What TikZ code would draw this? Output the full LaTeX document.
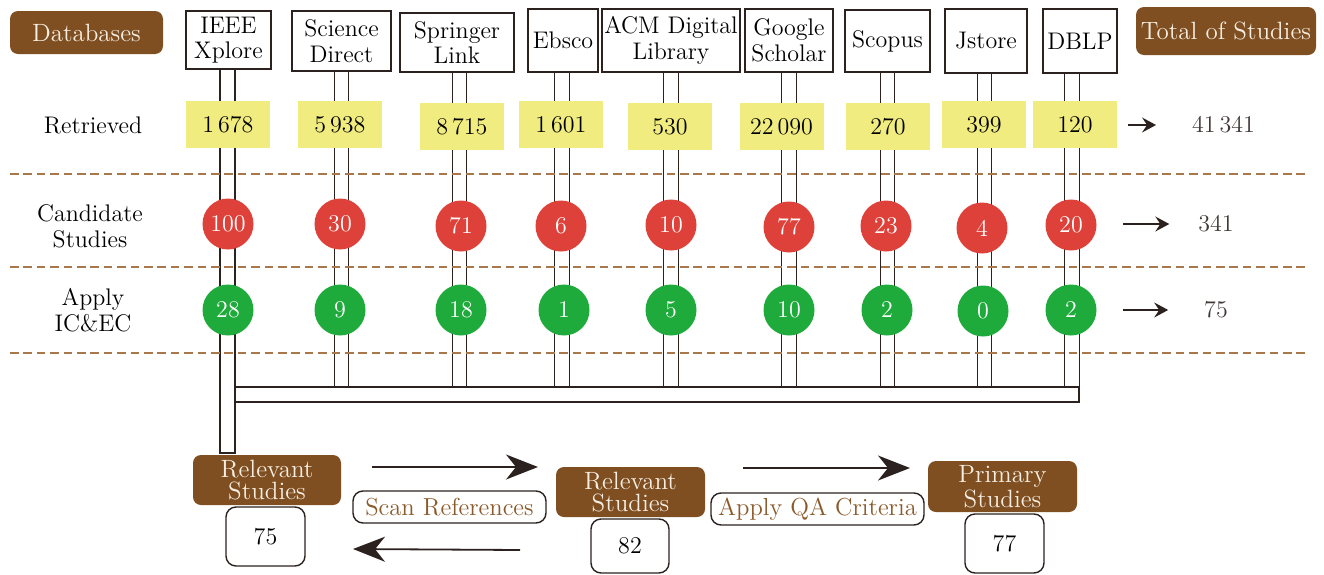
\documentclass[tikz,border=0pt]{standalone}
\usetikzlibrary{arrows.meta,backgrounds}
\definecolor{brownbox}{HTML}{7F4F22}
\definecolor{cream}{HTML}{F6EEE2}
\definecolor{yellowbox}{HTML}{F0EC80}
\definecolor{redc}{HTML}{DD4139}
\definecolor{greenc}{HTML}{1FAA3C}
\definecolor{dashbrown}{HTML}{A8784A}
\definecolor{ink}{HTML}{2B2220}
\definecolor{brtext}{HTML}{8B5A2B}
\begin{document}
\begin{tikzpicture}[x=0.5pt,y=-0.5pt,
  every node/.style={font=\fontsize{12}{13}\selectfont},
  sz/.style 2 args={minimum width=#1*0.5pt, minimum height=#2*0.5pt, inner sep=0pt},
  dbbox/.style={draw=ink, line width=0.7pt, fill=white, align=center, font=\fontsize{12}{12.8}\selectfont},
  brbox/.style={fill=brownbox, rounded corners=4pt, text=cream, align=center, font=\fontsize{12.5}{11}\selectfont},
  ybox/.style={fill=yellowbox, sz={84}{47}, text=black},
  rdot/.style={circle, fill=redc, text=white, sz={51}{51}},
  gdot/.style={circle, fill=greenc, text=white, sz={51}{51}},
  numbox/.style={draw=ink, line width=0.7pt, rounded corners=5pt, fill=white, text=black},
  stepname/.style={draw=ink, line width=0.7pt, rounded corners=5pt, fill=white, text=brtext, font=\fontsize{12.3}{13}\selectfont},
  pipe/.style={draw=ink, line width=0.7pt, double=white, double distance=6.55pt},
  dashline/.style={draw=dashbrown, line width=0.7pt, dash pattern=on 4.3pt off 2.4pt},
  rowlabel/.style={align=center, text=black, font=\fontsize{12}{13}\selectfont},
  total/.style={text=ink!90},
  tarrow/.style={-{Stealth[length=7pt,width=7.5pt,inset=2.5pt]}, line width=0.7pt, draw=ink},
  barrow/.style={-{Stealth[length=16pt,width=12.5pt,inset=5pt]}, line width=0.9pt, draw=ink}
]
\useasboundingbox (0,0) rectangle (1324,574);

% collecting bar
\node[draw=ink, line width=0.7pt, fill=white, sz={844}{15}] (bar) at (657,394.5) {};

% database boxes
\node[dbbox, sz={85}{58}]  (ieee)   at (228.5,40)  {IEEE\\Xplore};
\node[dbbox, sz={99}{60}]  (sd)     at (341.5,41)  {Science\\Direct};
\node[dbbox, sz={114}{59}] (spr)    at (457,42.5)  {Springer\\Link};
\node[dbbox, sz={70}{63}]  (ebsco)  at (563,40.5)  {Ebsco};
\node[dbbox, sz={138}{63}] (acm)    at (671,40.5)  {ACM Digital\\Library};
\node[dbbox, sz={88}{63}]  (google) at (789,40.5)  {Google\\Scholar};
\node[dbbox, sz={85}{62}]  (scopus) at (887.5,41)  {Scopus};
\node[dbbox, sz={82}{64}]  (jstore) at (986,41)    {Jstore};
\node[dbbox, sz={74}{64}]  (dblp)   at (1080,41)   {DBLP};

% column x positions
\coordinate (c1) at (227.5,0);
\coordinate (c2) at (341.5,0);
\coordinate (c3) at (459.5,0);
\coordinate (c4) at (562,0);
\coordinate (c5) at (671,0);
\coordinate (c6) at (789,0);
\coordinate (c7) at (887.5,0);
\coordinate (c8) at (984.5,0);
\coordinate (c9) at (1072,0);

\begin{scope}[on background layer]
% pipes
\draw[pipe] (c2 |- sd.south) -- (c2 |- bar.north);
\draw[pipe] (c3 |- spr.south) -- (c3 |- bar.north);
\draw[pipe] (c4 |- ebsco.south) -- (c4 |- bar.north);
\draw[pipe] (c5 |- acm.south) -- (c5 |- bar.north);
\draw[pipe] (c6 |- google.south) -- (c6 |- bar.north);
\draw[pipe] (c7 |- scopus.south) -- (c7 |- bar.north);
\draw[pipe] (c8 |- jstore.south) -- (c8 |- bar.north);
\draw[pipe] (c9 |- dblp.south) -- (c9 |- bar.north);
\draw[draw=ink, line width=0.7pt, fill=white] ([xshift=-3.75pt]c1 |- ieee.south) rectangle (235,453);
% dashed separators
\draw[dashline] (10,174) -- (1305,174);
\draw[dashline] (10,267) -- (1305,267);
\draw[dashline] (10,353) -- (1305,353);
\end{scope}

% header boxes
\node[brbox, sz={153}{43}] (dbh) at (86.5,32.5) {Databases};
\node[brbox, sz={180}{48}] (toth) at (1226,31) {Total of Studies};

% row labels
\node[rowlabel] (lret)  at (93,125) {Retrieved};
\node[rowlabel] (lcand) at (90,226) {Candidate\\Studies};
\node[rowlabel] (lapp)  at (93,310) {Apply\\IC\&EC};

% retrieved
\node[ybox] (r1) at (228,124.5)   {1\,678};
\node[ybox] (r2) at (340,124.5)   {5\,938};
\node[ybox] (r3) at (462,126.5)   {8\,715};
\node[ybox] (r4) at (561,124.5)   {1\,601};
\node[ybox] (r5) at (670,126.5)   {530};
\node[ybox] (r6) at (781.5,126.5) {22\,090};
\node[ybox] (r7) at (888,126.5)   {270};
\node[ybox] (r8) at (984,124.5)   {399};
\node[ybox] (r9) at (1075,124.5)  {120};

% candidate
\node[rdot] (k1) at (228,224) {100};
\node[rdot] (k2) at (340,224) {30};
\node[rdot] (k3) at (461,226) {71};
\node[rdot] (k4) at (561,226) {6};
\node[rdot] (k5) at (671,225) {10};
\node[rdot] (k6) at (789,227) {77};
\node[rdot] (k7) at (886,226) {23};
\node[rdot] (k8) at (982,228) {4};
\node[rdot] (k9) at (1071,225) {20};

% apply IC&EC
\node[gdot] (g1) at (228,310) {28};
\node[gdot] (g2) at (340,310) {9};
\node[gdot] (g3) at (461,310) {18};
\node[gdot] (g4) at (564,310) {1};
\node[gdot] (g5) at (671,310) {5};
\node[gdot] (g6) at (789,310) {10};
\node[gdot] (g7) at (887,310) {2};
\node[gdot] (g8) at (983,311) {0};
\node[gdot] (g9) at (1071,310) {2};

% totals
\node[total] (t1) at (1223.5,125) {41\,341};
\node[total] (t2) at (1216,224) {341};
\node[total] (t3) at (1216,310) {75};
\coordinate (a1) at (1128,125);
\coordinate (a2) at (1123,224);
\coordinate (a3) at (1123,310);
\draw[tarrow] (a1) -- ([xshift=-14.5pt]t1.west);
\draw[tarrow] (a2) -- ([xshift=-11pt]t2.west);
\draw[tarrow] (a3) -- ([xshift=-14.5pt]t3.west);

% bottom flow
\node[brbox, sz={148}{50}] (rel1) at (267,480) {Relevant\\Studies};
\node[numbox, sz={79}{59}] (n1) at (265.5,536.5) {75};
\node[brbox, sz={149}{50}] (rel2) at (630.5,492) {Relevant\\Studies};
\node[numbox, sz={78}{54}] (n2) at (630,546) {82};
\node[brbox, sz={149}{51}] (prim) at (1002.5,486.5) {Primary\\Studies};
\node[numbox, sz={79}{59}] (n3) at (1004.5,543.5) {77};

\node[stepname, sz={193}{32}] (scan) at (449.5,507) {Scan References};
\node[stepname, sz={213}{32}] (qa) at (817.5,509) {Apply QA Criteria};

\coordinate (f1s) at (372,467);
\coordinate (f1e) at (538,467);
\coordinate (f2s) at (743,468);
\coordinate (f2e) at (910,468);
\coordinate (b1s) at (520,550);
\coordinate (b1e) at (353,549);
\draw[barrow] (f1s) -- (f1e);
\draw[barrow] (f2s) -- (f2e);
\draw[barrow] (b1s) -- (b1e);
\end{tikzpicture}
\end{document}
